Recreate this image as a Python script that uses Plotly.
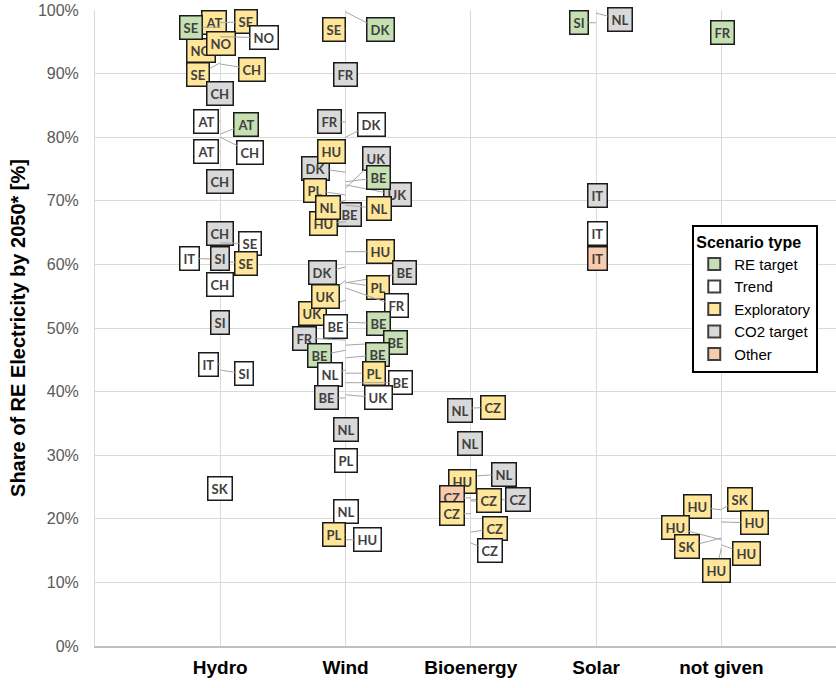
import plotly.graph_objects as go

# ---------------- data ----------------
categories = ["Hydro", "Wind", "Bioenergy", "Solar", "not given"]
scenario_types = ["RE target", "Trend", "Exploratory", "CO2 target", "Other"]
type_code = {"RE": "RE target", "TR": "Trend", "EX": "Exploratory", "CO2": "CO2 target", "OT": "Other"}

hydro_country = ["AT", "SE", "NO", "SE", "NO", "NO", "SE", "CH", "CH", "AT", "AT", "CH", "AT", "CH",
                 "CH", "SE", "IT", "SE", "SI", "CH", "SI", "IT", "SI", "SK"]
hydro_type = ["EX", "EX", "EX", "RE", "EX", "TR", "EX", "EX", "CO2", "TR", "RE", "TR", "TR", "CO2",
              "CO2", "TR", "TR", "EX", "CO2", "TR", "CO2", "TR", "TR", "TR"]
hydro_value = [98.1, 98.0, 93.6, 97.3, 94.8, 95.8, 91.7, 91.5, 86.8, 82.5, 80.5, 80.0, 77.7, 73.0,
               64.9, 63.4, 60.8, 60.5, 61.0, 56.9, 50.9, 44.3, 43.4, 24.8]

wind_country = ["SE", "DK", "FR", "FR", "DK", "DK", "HU", "UK", "UK", "BE", "PL", "BE", "HU", "NL",
                "NL", "HU", "DK", "BE", "UK", "UK", "PL", "FR", "BE", "BE", "FR", "BE", "BE", "BE",
                "NL", "PL", "BE", "BE", "UK", "NL", "PL", "NL", "PL", "HU"]
wind_type = ["EX", "RE", "CO2", "CO2", "TR", "CO2", "EX", "CO2", "CO2", "RE", "EX", "CO2", "EX", "EX",
             "EX", "EX", "CO2", "CO2", "EX", "EX", "EX", "TR", "TR", "RE", "CO2", "RE", "RE", "RE",
             "TR", "EX", "TR", "CO2", "TR", "CO2", "TR", "TR", "EX", "TR"]
wind_value = [97.0, 99.7, 89.9, 82.4, 80.0, 74.5, 77.7, 72.5, 72.0, 73.0, 70.9, 67.9, 66.7, 70.1,
              69.3, 62.0, 59.6, 57.1, 54.4, 57.5, 57.2, 56.3, 50.2, 50.9, 48.1, 47.3, 46.5, 45.3,
              43.4, 42.9, 41.4, 39.0, 39.5, 34.0, 29.1, 21.1, 17.5, 16.7]

bio_country = ["NL", "CZ", "NL", "NL", "HU", "CZ", "CZ", "CZ", "CZ", "CZ", "CZ"]
bio_type = ["CO2", "EX", "CO2", "CO2", "EX", "CO2", "OT", "EX", "EX", "EX", "TR"]
bio_value = [37.1, 37.4, 31.9, 26.7, 26.2, 23.0, 23.3, 22.8, 20.8, 17.9, 16.2]

solar_country = ["SI", "NL", "IT", "IT", "IT"]
solar_type = ["RE", "CO2", "CO2", "TR", "OT"]
solar_value = [98.0, 99.5, 70.9, 64.9, 61.0]

ng_country = ["FR", "HU", "SK", "HU", "HU", "SK", "HU", "HU"]
ng_type = ["RE", "EX", "EX", "EX", "EX", "EX", "EX", "EX"]
ng_value = [96.5, 21.4, 21.5, 19.5, 16.7, 17.0, 15.9, 15.4]

# ---------------- label placement (layout, pixels) ----------------
hydro_offset = [(-6, 0), (26, -1), (-19, 0), (-29, 0), (1, 0), (44, 1), (-22, 12), (32, 5), (0, 0),
                (-14, 0), (26, -10), (30, 15), (-14, 0), (0, 0), (0, 0), (30, 1), (-31, -1), (26, 2),
                (0, 0), (0, 0), (0, 0), (-12, 0), (24, 4), (0, 0)]
wind_offset = [(-12, 0), (35, 18), (0, 0), (-16, 0), (26, -13), (-30, -4), (-14, 0), (52, 10), (31, -30),
               (33, -4), (-31, -5), (4, 0), (-22, 2), (-18, 7), (33, 3), (35, 0), (-23, 6), (59, -10),
               (-33, 13), (-20, 16), (32, 5), (51, 18), (-10, 0), (33, 1), (-41, -2), (50, -3), (-26, 5),
               (32, -3), (-16, 5), (28, 0), (55, 0), (-19, 0), (33, 3), (0, 0), (0, 0), (0, 0),
               (-12, 0), (22, 0)]
bio_offset = [(-11, 0), (22, -1), (-1, 0), (33, -2), (-8, 2), (47, 0), (-19, 0), (18, 0), (-19, 0),
              (24, -4), (19, 8)]
solar_offset = [(-17, 0), (24, 6), (1, 0), (1, 0), (1, 0)]
ng_offset = [(1, 0), (-24, -3), (19, -10), (33, 1), (-46, -12), (-34, 9), (25, 9), (-5, 22)]

# ---------------- styles ----------------
type_colors = {
    "RE target": "#C6E0B4",
    "Trend": "#FFFFFF",
    "Exploratory": "#FFE699",
    "CO2 target": "#D9D9D9",
    "Other": "#F8CBAD",
}
AXFONT = "Liberation Sans, Arial, sans-serif"

groups = [
    (1, hydro_country, hydro_type, hydro_value, hydro_offset),
    (2, wind_country, wind_type, wind_value, wind_offset),
    (3, bio_country, bio_type, bio_value, bio_offset),
    (4, solar_country, solar_type, solar_value, solar_offset),
    (5, ng_country, ng_type, ng_value, ng_offset),
]

fig = go.Figure()

# invisible data points (the labels below are anchored on them)
for st in scenario_types:
    xs, ys, cs = [], [], []
    for xpos, ctry, typ, val, _ in groups:
        for c, t, v in zip(ctry, typ, val):
            if type_code[t] == st:
                xs.append(xpos)
                ys.append(v / 100)
                cs.append(c)
    fig.add_trace(go.Scatter(x=xs, y=ys, mode="markers", text=cs, showlegend=False,
                             marker=dict(size=6, opacity=0), hovertemplate="%{text}: %{y:.0%}<extra></extra>"))

# legend entries
for st in scenario_types:
    fig.add_trace(go.Scatter(x=[None], y=[None], mode="markers", name=st,
                             marker=dict(symbol="square", size=15, color=type_colors[st],
                                         line=dict(color="#404040", width=1))))

annotations = []
for xpos, ctry, typ, val, offs in groups:
    for c, t, v, (ax, ay) in zip(ctry, typ, val, offs):
        annotations.append(dict(
            x=xpos, y=v / 100, xref="x", yref="y",
            text="<b>%s</b>" % c,
            showarrow=True, ax=ax, ay=ay, axref="pixel", ayref="pixel",
            arrowhead=0, arrowwidth=1, arrowcolor="#A6A6A6", standoff=0, startstandoff=0,
            font=dict(family="Lato, Open Sans, sans-serif", size=13, color="#404040"),
            bgcolor=type_colors[type_code[t]], bordercolor="#1a1a1a", borderwidth=1.5, borderpad=3,
        ))

fig.update_layout(
    width=836, height=688,
    margin=dict(l=95, r=0, t=10, b=42),
    paper_bgcolor="white", plot_bgcolor="white",
    annotations=annotations,
    showlegend=True,
    legend=dict(
        x=0.806, y=0.662, xanchor="left", yanchor="top",
        bgcolor="white", bordercolor="#000000", borderwidth=2,
        font=dict(family=AXFONT, size=15, color="#000000"),
        title=dict(text="<b>Scenario type</b>", font=dict(family=AXFONT, size=16, color="#000000")),
        tracegroupgap=0, itemsizing="constant",
        entrywidth=92, entrywidthmode="pixels",
    ),
    xaxis=dict(
        range=[0, 5.915], tickvals=[1, 2, 3, 4, 5], ticktext=categories,
        tickfont=dict(family=AXFONT, size=19, color="#000000", weight="bold"),
        showgrid=True, gridcolor="#D9D9D9", gridwidth=1,
        showline=True, linecolor="#BFBFBF", linewidth=1.5,
        zeroline=False, ticks="", ticklabelstandoff=3, fixedrange=True,
    ),
    yaxis=dict(
        range=[0, 1], dtick=0.1, tickformat=".0%",
        tickfont=dict(family=AXFONT, size=16, color="#595959"),
        showgrid=True, gridcolor="#D9D9D9", gridwidth=1,
        showline=True, linecolor="#D9D9D9", linewidth=1,
        zeroline=False, ticks="", ticklabelstandoff=12,
        title=dict(text="<b>Share of RE Electricity by 2050* [%]</b>",
                   font=dict(family=AXFONT, size=20, color="#000000"),
                   standoff=6),
    ),
)

fig.write_html("out.html", config={"displayModeBar": False},
               post_script="document.body.style.margin='0px';document.body.style.overflow='hidden';")
